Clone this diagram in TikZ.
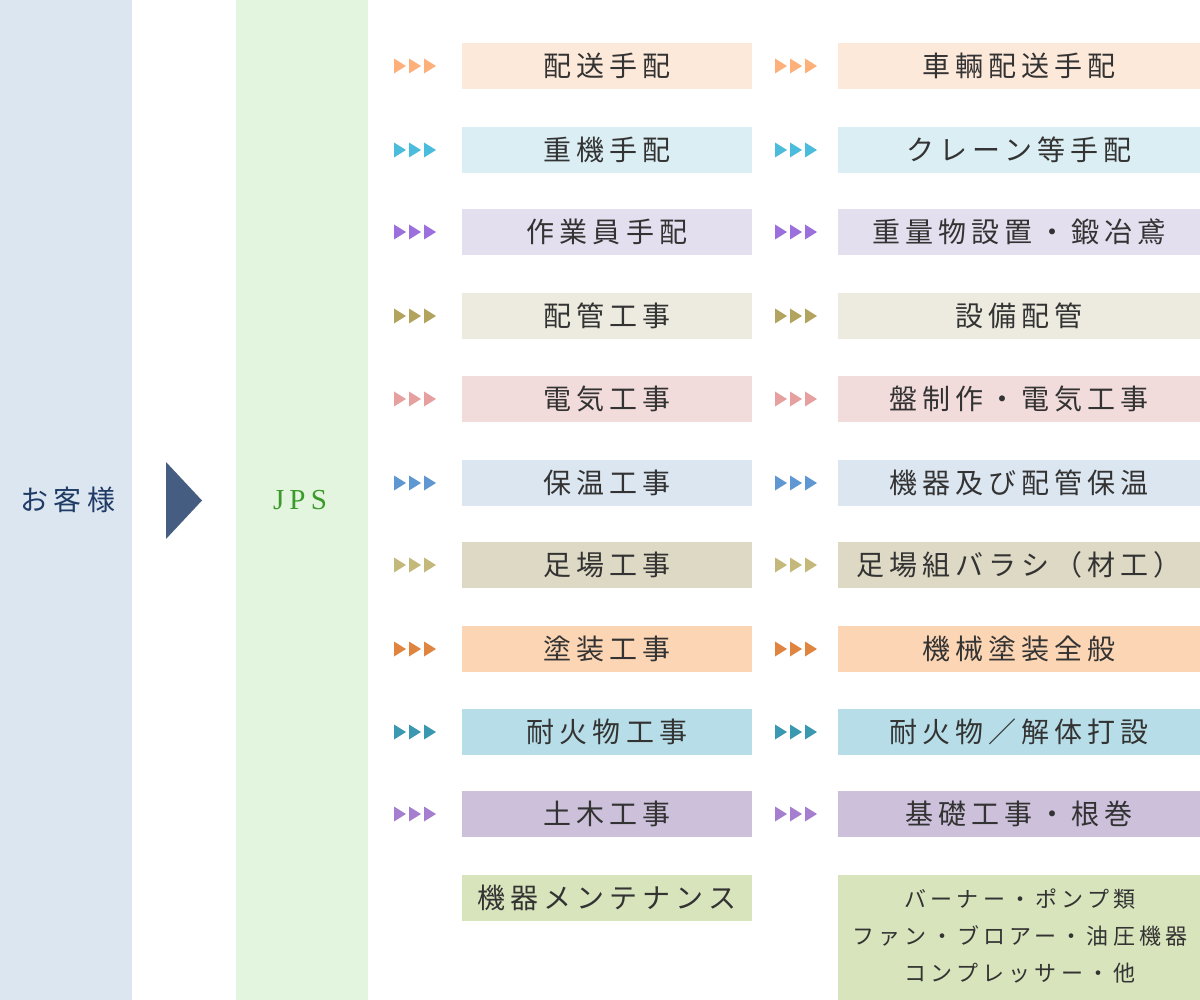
\documentclass[tikz,border=0pt]{standalone}
\usepackage{fontspec}
\newfontfamily\jpfont[LetterSpace=18]{Noto Sans CJK JP}
\newfontfamily\jpsmall[LetterSpace=19]{Noto Sans CJK JP}
\newfontfamily\latfont[LetterSpace=18]{Liberation Serif}
\definecolor{colL}{HTML}{DCE6F0}
\definecolor{colJ}{HTML}{E4F5DF}
\definecolor{navy}{HTML}{1F3B66}
\definecolor{bigtri}{HTML}{455D80}
\definecolor{jpsgreen}{HTML}{3A9A2A}
\definecolor{txt}{HTML}{333333}
\definecolor{bA}{HTML}{FDE9DA}\definecolor{aA}{HTML}{FDB07A}
\definecolor{bB}{HTML}{DAEEF3}\definecolor{aB}{HTML}{4BBCDC}
\definecolor{bC}{HTML}{E4DFEE}\definecolor{aC}{HTML}{9B6FDC}
\definecolor{bD}{HTML}{EDEBE0}\definecolor{aD}{HTML}{B2A45E}
\definecolor{bE}{HTML}{F2DCDB}\definecolor{aE}{HTML}{E6A0A0}
\definecolor{bF}{HTML}{DCE6F1}\definecolor{aF}{HTML}{5E97D2}
\definecolor{bG}{HTML}{DDD9C4}\definecolor{aG}{HTML}{C4B87A}
\definecolor{bH}{HTML}{FCD5B4}\definecolor{aH}{HTML}{E08540}
\definecolor{bI}{HTML}{B7DEE8}\definecolor{aI}{HTML}{3A98B0}
\definecolor{bJ}{HTML}{CCC0DA}\definecolor{aJ}{HTML}{A67ED0}
\definecolor{bK}{HTML}{D8E4BC}
\begin{document}
\begin{tikzpicture}[x=1pt,y=-1pt,
  box/.style={inner sep=0pt,minimum height=46pt,text=txt,
    font=\jpfont\fontsize{28}{32}\selectfont},
  lbox/.style={box,minimum width=290pt},
  rbox/.style={box,minimum width=362pt}]
\useasboundingbox (0,0) rectangle (1200,1000);
\fill[colL] (0,0) rectangle (132,1000);
\fill[colJ] (236,0) rectangle (368,1000);
\node[text=navy,font=\jpfont\fontsize{28}{32}\selectfont] (cust) at (68,500) {お客様};
\fill[bigtri] (166,462) -- (202,500.5) -- (166,539) -- cycle;
\node[text=jpsgreen,font=\latfont\fontsize{29}{32}\selectfont] (jps) at (300,500) {JPS};
\foreach \i/\t/\c/\la/\lb in {
  1/43/A/配送手配/車輛配送手配,
  2/127/B/重機手配/クレーン等手配,
  3/209/C/作業員手配/重量物設置・鍛冶鳶,
  4/293/D/配管工事/設備配管,
  5/376/E/電気工事/盤制作・電気工事,
  6/460/F/保温工事/機器及び配管保温,
  7/542/G/足場工事/足場組バラシ（材工）,
  8/626/H/塗装工事/機械塗装全般,
  9/709/I/耐火物工事/耐火物／解体打設,
  10/791/J/土木工事/基礎工事・根巻}{
  \pgfmathsetmacro{\yc}{\t+23}
  \node[lbox,fill=b\c] (L\i) at (607,\yc) {\la};
  \node[rbox,fill=b\c] (R\i) at (1019,\yc) {\lb};
  \foreach \x in {394,409,424,775,790,805}{
    \fill[a\c] (\x,\yc-7.5) -- (\x+12,\yc) -- (\x,\yc+7.5) -- cycle;
  }
}
\node[lbox,fill=bK] (L11) at (607,898) {機器メンテナンス};
\fill[bK] (838,875) rectangle (1200,1000);
\node[text=txt,font=\jpsmall\fontsize{22}{37}\selectfont,align=center] (R11) at (1020,936)
  {バーナー・ポンプ類\\ファン・ブロアー・油圧機器\\コンプレッサー・他};
\end{tikzpicture}
\end{document}
